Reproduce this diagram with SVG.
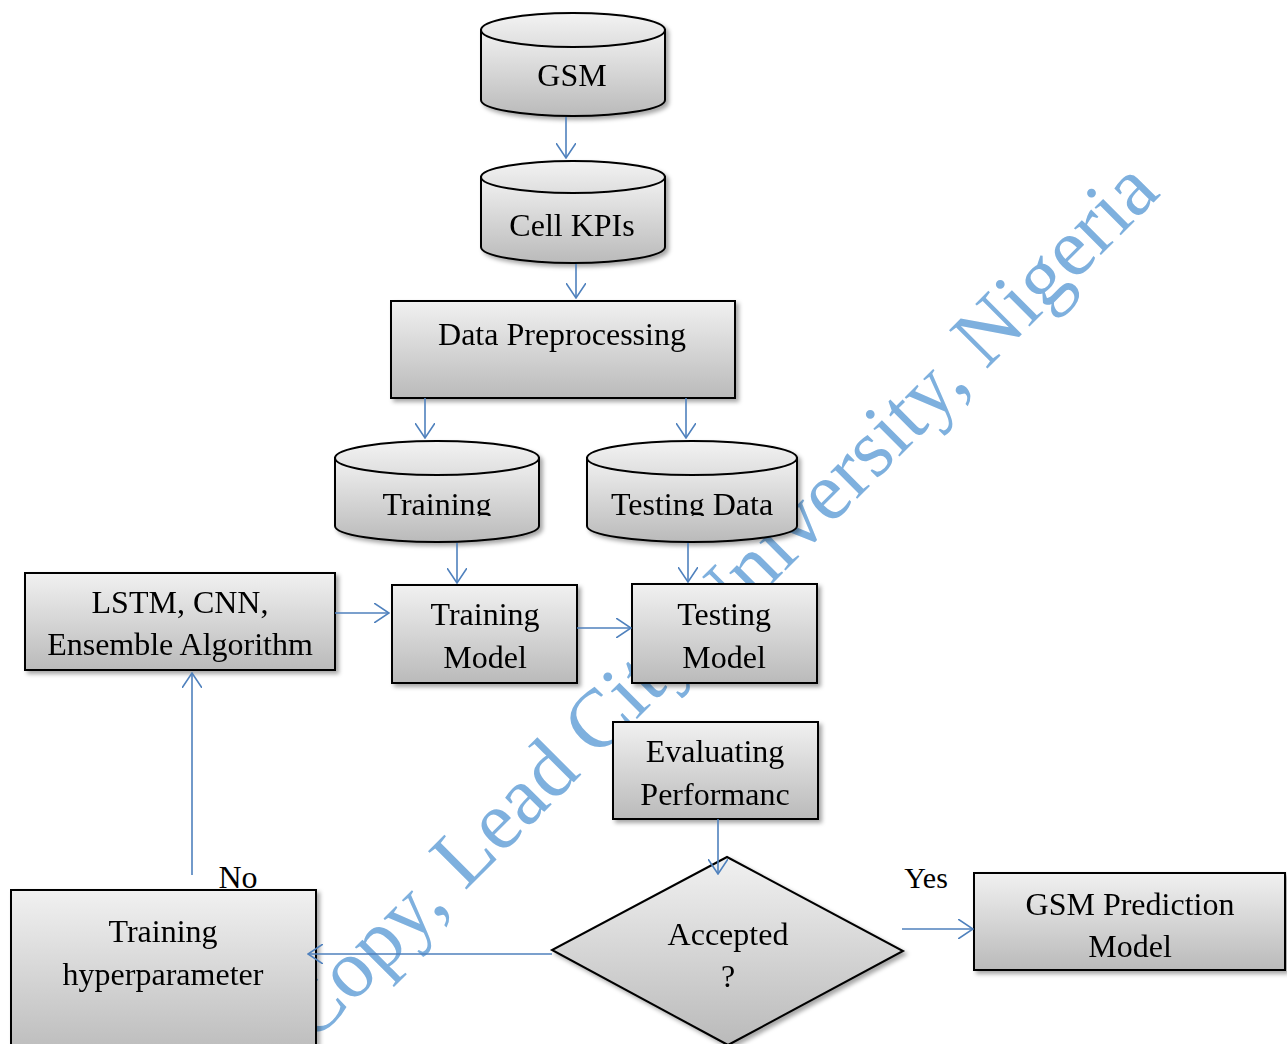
<svg xmlns="http://www.w3.org/2000/svg" width="1287" height="1044" viewBox="0 0 1287 1044">
  <defs>
    <linearGradient id="boxFill" x1="0" y1="0" x2="0" y2="1">
      <stop offset="0" stop-color="#f1f1f1"/>
      <stop offset="1" stop-color="#bababa"/>
    </linearGradient>
    <linearGradient id="lidFill" x1="0" y1="0" x2="0" y2="1">
      <stop offset="0" stop-color="#f3f3f3"/>
      <stop offset="1" stop-color="#dedede"/>
    </linearGradient>
    <filter id="shadow" x="-10%" y="-10%" width="125%" height="130%">
      <feDropShadow dx="3" dy="3" stdDeviation="2" flood-color="#000" flood-opacity="0.35"/>
    </filter>
    <marker id="arrow" viewBox="0 0 16 20" refX="15" refY="10" markerWidth="16" markerHeight="20" markerUnits="userSpaceOnUse" orient="auto">
      <path d="M0,0 L15,10 L0,20" fill="none" stroke="#4f81bd" stroke-width="1.6"/>
    </marker>
    <clipPath id="cylText" clipPathUnits="userSpaceOnUse">
      <rect x="330" y="430" width="480" height="86"/>
    </clipPath>
  </defs>
  <style>
    .shape { fill: url(#boxFill); stroke: #000; stroke-width: 2; }
    .lid { fill: url(#lidFill); stroke: #000; stroke-width: 2; }
    .label { font-family: "Liberation Serif", "Times New Roman", serif; font-size: 32px; fill: #000; text-anchor: middle; }
    .edge { fill: none; stroke: #4f81bd; stroke-width: 1.6; marker-end: url(#arrow); }
    .mark { font-family: "Liberation Serif", "Times New Roman", serif; font-size: 83px; fill: #7eb0de; }
  </style>

  <!-- diagonal watermark behind the flow chart -->
  <text class="mark" x="312" y="1044" transform="rotate(-45 312 1044)">Copy, Lead City University, Nigeria</text>

  <!-- data stores -->
  <g id="gsm" filter="url(#shadow)">
    <path class="shape" d="M481,30 L481,100 A92,16 0 0 0 665,100 L665,30 Z"/>
    <ellipse class="lid" cx="573" cy="30" rx="92" ry="17"/>
    <text class="label" x="572" y="86">GSM</text>
  </g>
  <g id="cell-kpis" filter="url(#shadow)">
    <path class="shape" d="M481,177 L481,247 A92,16 0 0 0 665,247 L665,177 Z"/>
    <ellipse class="lid" cx="573" cy="177" rx="92" ry="16"/>
    <text class="label" x="572" y="236">Cell KPIs</text>
  </g>

  <g id="data-preprocessing" filter="url(#shadow)">
    <rect class="shape" x="391" y="301" width="344" height="97"/>
    <text class="label" x="562" y="345">Data Preprocessing</text>
  </g>

  <g id="training-data" filter="url(#shadow)">
    <path class="shape" d="M335,458 L335,526 A102,16 0 0 0 539,526 L539,458 Z"/>
    <ellipse class="lid" cx="437" cy="458" rx="102" ry="17"/>
    <text class="label" x="437" y="515" clip-path="url(#cylText)">Training</text>
  </g>
  <g id="testing-data" filter="url(#shadow)">
    <path class="shape" d="M587,458 L587,526 A105,16 0 0 0 797,526 L797,458 Z"/>
    <ellipse class="lid" cx="692" cy="458" rx="105" ry="17"/>
    <text class="label" x="692" y="515" clip-path="url(#cylText)">Testing Data</text>
  </g>

  <!-- process boxes -->
  <g id="algorithms" filter="url(#shadow)">
    <rect class="shape" x="25" y="573" width="310" height="97"/>
    <text class="label" x="180" y="613">LSTM, CNN,</text>
    <text class="label" x="180" y="655">Ensemble Algorithm</text>
  </g>
  <g id="training-model" filter="url(#shadow)">
    <rect class="shape" x="392" y="585" width="185" height="98"/>
    <text class="label" x="485" y="625">Training</text>
    <text class="label" x="485" y="668">Model</text>
  </g>
  <g id="testing-model" filter="url(#shadow)">
    <rect class="shape" x="632" y="584" width="185" height="99"/>
    <text class="label" x="724" y="625">Testing</text>
    <text class="label" x="724" y="668">Model</text>
  </g>
  <g id="evaluating" filter="url(#shadow)">
    <rect class="shape" x="613" y="722" width="205" height="97"/>
    <text class="label" x="715" y="762">Evaluating</text>
    <text class="label" x="715" y="805">Performanc</text>
  </g>
  <g id="accepted" filter="url(#shadow)">
    <polygon class="shape" points="727,857 903,951 728,1045 552,950"/>
    <text class="label" x="728" y="945">Accepted</text>
    <text class="label" x="728" y="987">?</text>
  </g>
  <g id="prediction-model" filter="url(#shadow)">
    <rect class="shape" x="974" y="873" width="311" height="97"/>
    <text class="label" x="1130" y="915">GSM Prediction</text>
    <text class="label" x="1130" y="957">Model</text>
  </g>
  <g id="hyperparameter" filter="url(#shadow)">
    <rect class="shape" x="11" y="890" width="305" height="170"/>
    <text class="label" x="163" y="942">Training</text>
    <text class="label" x="163" y="985">hyperparameter</text>
  </g>

  <!-- connectors -->
  <g id="connectors">
    <line class="edge" x1="566" y1="117" x2="566" y2="158"/>
    <line class="edge" x1="576" y1="264" x2="576" y2="298"/>
    <line class="edge" x1="425" y1="398" x2="425" y2="438"/>
    <line class="edge" x1="686" y1="398" x2="686" y2="438"/>
    <line class="edge" x1="457" y1="543" x2="457" y2="583"/>
    <line class="edge" x1="688" y1="543" x2="688" y2="582"/>
    <line class="edge" x1="335" y1="613" x2="389" y2="613"/>
    <line class="edge" x1="577" y1="628" x2="631" y2="628"/>
    <line class="edge" x1="718" y1="819" x2="718" y2="874"/>
    <line class="edge" x1="902" y1="929" x2="973" y2="929"/>
    <line class="edge" x1="552" y1="954" x2="308" y2="954"/>
    <line class="edge" x1="192" y1="875" x2="192" y2="673"/>
    <text class="label" x="238" y="888">No</text>
    <text class="label" x="926" y="888" style="font-size:30px">Yes</text>
  </g>
</svg>
